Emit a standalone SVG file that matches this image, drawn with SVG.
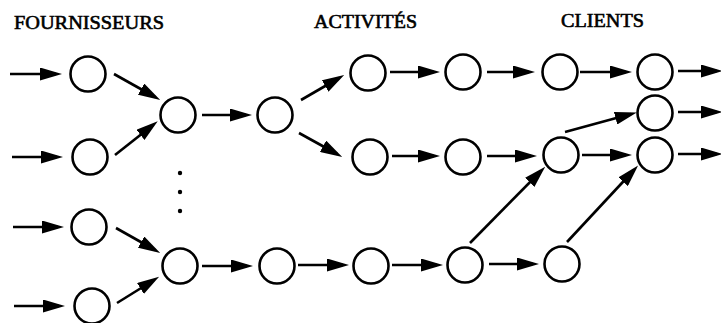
<svg xmlns="http://www.w3.org/2000/svg" width="721" height="323" viewBox="0 0 721 323">
<style>
.n{fill:#fff;stroke:#000;stroke-width:2.6}
.e{stroke:#000;stroke-width:2.6;fill:none;marker-end:url(#ah)}
.t{font-family:"Liberation Serif",serif;font-size:19px;fill:#000;stroke:#000;stroke-width:0.6}
</style>
<defs>
<marker id="ah" viewBox="0 0 22 13" refX="16" refY="6.5" markerWidth="22" markerHeight="13" markerUnits="userSpaceOnUse" orient="auto">
<path d="M0,0 L22,6.5 L0,13 z" fill="#000"/>
</marker>
</defs>
<rect width="721" height="323" fill="#fff"/>
<g id="labels">
<text class="t" x="14" y="29" textLength="150" lengthAdjust="spacingAndGlyphs">FOURNISSEURS</text>
<text class="t" x="314" y="28" textLength="103" lengthAdjust="spacingAndGlyphs">ACTIVITÉS</text>
<text class="t" x="561" y="27" textLength="83" lengthAdjust="spacingAndGlyphs">CLIENTS</text>
</g>
<g id="connectors">
<line class="e" x1="10" y1="74" x2="56" y2="74"/>
<line class="e" x1="12" y1="157" x2="57" y2="157"/>
<line class="e" x1="13" y1="227" x2="58" y2="227"/>
<line class="e" x1="14" y1="306" x2="59" y2="306"/>
<line class="e" x1="114" y1="74" x2="155" y2="97"/>
<line class="e" x1="115" y1="155" x2="153" y2="125"/>
<line class="e" x1="116" y1="228" x2="155" y2="250"/>
<line class="e" x1="117" y1="303" x2="154" y2="280"/>
<line class="e" x1="202" y1="115" x2="246" y2="115"/>
<line class="e" x1="301" y1="100" x2="339" y2="78"/>
<line class="e" x1="299" y1="133" x2="337" y2="154"/>
<line class="e" x1="390" y1="72" x2="434" y2="72"/>
<line class="e" x1="487" y1="72" x2="529" y2="72"/>
<line class="e" x1="580" y1="72" x2="626" y2="72"/>
<line class="e" x1="678" y1="71" x2="717" y2="71"/>
<line class="e" x1="392" y1="156" x2="434" y2="156"/>
<line class="e" x1="487" y1="156" x2="531" y2="156"/>
<line class="e" x1="582" y1="155" x2="626" y2="155"/>
<line class="e" x1="678" y1="154" x2="717" y2="154"/>
<line class="e" x1="565" y1="132" x2="631" y2="114"/>
<line class="e" x1="678" y1="112" x2="717" y2="112"/>
<line class="e" x1="470" y1="243" x2="541" y2="171"/>
<line class="e" x1="567" y1="242" x2="634" y2="170"/>
<line class="e" x1="202" y1="266" x2="247" y2="266"/>
<line class="e" x1="298" y1="265" x2="343" y2="265"/>
<line class="e" x1="392" y1="265" x2="437" y2="265"/>
<line class="e" x1="489" y1="264" x2="533" y2="264"/>
</g>
<g id="dots" fill="#000">
<circle cx="180" cy="173" r="2.2"/>
<circle cx="180" cy="192" r="2.2"/>
<circle cx="180" cy="211" r="2.2"/>
</g>
<g id="S1"><circle class="n" cx="88" cy="74" r="17.5"/></g>
<g id="S2"><circle class="n" cx="90" cy="157" r="17.5"/></g>
<g id="S3"><circle class="n" cx="89" cy="227" r="17.5"/></g>
<g id="S4"><circle class="n" cx="92" cy="306" r="17.5"/></g>
<g id="H1"><circle class="n" cx="178" cy="115" r="17.5"/></g>
<g id="H2"><circle class="n" cx="180" cy="266" r="17.5"/></g>
<g id="N"><circle class="n" cx="275" cy="115" r="17.5"/></g>
<g id="A1"><circle class="n" cx="368" cy="73" r="17.5"/></g>
<g id="A2"><circle class="n" cx="463" cy="72" r="17.5"/></g>
<g id="A3"><circle class="n" cx="560" cy="72" r="17.5"/></g>
<g id="A4"><circle class="n" cx="655" cy="72" r="17.5"/></g>
<g id="B1"><circle class="n" cx="370" cy="157" r="17.5"/></g>
<g id="B2"><circle class="n" cx="463" cy="157" r="17.5"/></g>
<g id="B3"><circle class="n" cx="561" cy="155" r="17.5"/></g>
<g id="C"><circle class="n" cx="655" cy="113" r="17.5"/></g>
<g id="B4"><circle class="n" cx="655" cy="155" r="17.5"/></g>
<g id="L1"><circle class="n" cx="277" cy="266" r="17.5"/></g>
<g id="L2"><circle class="n" cx="371" cy="266" r="17.5"/></g>
<g id="L3"><circle class="n" cx="465" cy="265" r="17.5"/></g>
<g id="L4"><circle class="n" cx="562" cy="264" r="17.5"/></g>
</svg>
